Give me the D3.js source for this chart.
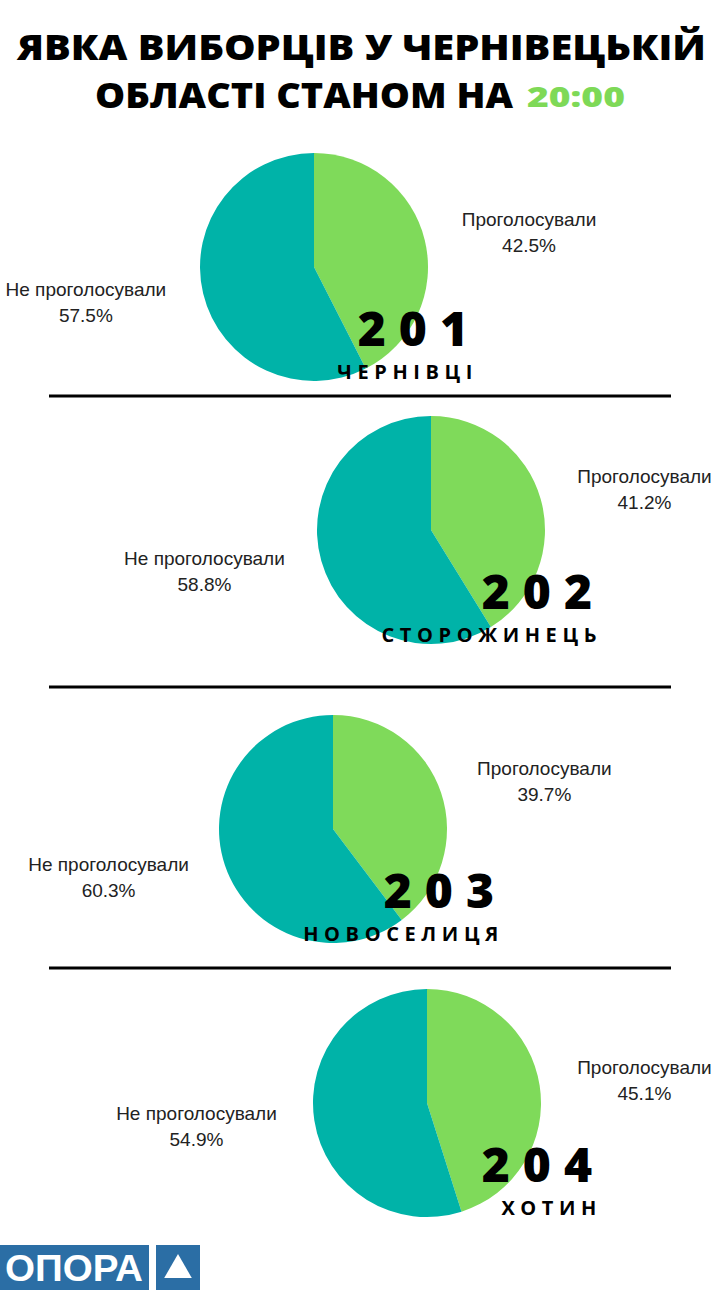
<!DOCTYPE html>
<html lang="uk">
<head>
    <meta charset="UTF-8">
    <title>Явка виборців у Чернівецькій області</title>
    <style>
        body { margin: 0; background: #fff; }
        svg { display: block; }
    </style>
    <script src="https://cdn.jsdelivr.net/npm/d3@7"></script>
</head>
<body>
    <svg id="chart" width="720" height="1290"></svg>

    <script>
        // values
        const districts = ["201", "202", "203", "204"];
        const towns = ["ЧЕРНІВЦІ", "СТОРОЖИНЕЦЬ", "НОВОСЕЛИЦЯ", "ХОТИН"];
        const voted = [42.5, 41.2, 39.7, 45.1];
        const notVoted = [57.5, 58.8, 60.3, 54.9];
        const sliceNames = ["Проголосували", "Не проголосували"];
        const titleLines = ["ЯВКА ВИБОРЦІВ У ЧЕРНІВЕЦЬКІЙ", "ОБЛАСТІ СТАНОМ НА"];
        const titleTime = "20:00";

        // layout
        const W = 720, H = 1290;
        const pieCenters = [[314, 267], [431, 530], [333, 829], [427, 1103]];
        const tagRight = [472, 596, 498, 596];
        const dividers = [396, 687, 968];
        const radius = 114;
        const labelRadius = 152;
        const colors = d3.scaleOrdinal().domain(sliceNames).range(["#7fda5a", "#00b3a8"]);

        const svg = d3.select("#chart");

        // title
        const title = svg.append("g")
            .attr("font-family", "'Open Sans', sans-serif")
            .attr("font-weight", 800)
            .attr("font-size", 35);

        title.append("text")
            .attr("x", 17).attr("y", 60)
            .attr("textLength", 689)
            .attr("lengthAdjust", "spacingAndGlyphs")
            .text(titleLines[0]);

        title.append("text")
            .attr("x", 95).attr("y", 108)
            .attr("textLength", 418)
            .attr("lengthAdjust", "spacingAndGlyphs")
            .text(titleLines[1]);

        title.append("text")
            .attr("x", 527).attr("y", 107)
            .attr("fill", "#7ed957")
            .attr("font-size", 29)
            .attr("textLength", 98)
            .attr("lengthAdjust", "spacingAndGlyphs")
            .text(titleTime);

        const pie = d3.pie().sort(null).value(d => d.value);
        const arc = d3.arc().innerRadius(0).outerRadius(radius);
        const labelArc = d3.arc().innerRadius(labelRadius).outerRadius(labelRadius);

        districts.forEach((district, i) => {
            const [cx, cy] = pieCenters[i];
            const slices = pie([
                { name: sliceNames[0], value: voted[i] },
                { name: sliceNames[1], value: notVoted[i] }
            ]);

            const g = svg.append("g").attr("transform", `translate(${cx},${cy})`);

            g.selectAll("path")
                .data(slices)
                .join("path")
                .attr("d", arc)
                .attr("fill", d => colors(d.data.name));

            // slice labels, block edge pinned at the label radius
            slices.forEach(d => {
                const [lx, ly] = labelArc.centroid(d);
                const right = lx >= 0;
                const lbl = g.append("text")
                    .attr("font-family", "'Liberation Sans', Arial, sans-serif")
                    .attr("font-size", 19)
                    .attr("fill", "#222")
                    .attr("text-anchor", "middle");
                const l1 = lbl.append("tspan").attr("y", ly - 6).text(d.data.name);
                const l2 = lbl.append("tspan").attr("y", ly + 20).text(d.data.value.toFixed(1) + "%");
                const w = Math.max(l1.node().getComputedTextLength(), l2.node().getComputedTextLength());
                const x = right ? lx + w / 2 : lx - w / 2;
                l1.attr("x", x);
                l2.attr("x", x);
            });

            // district number and town
            const tx = tagRight[i] - cx;
            g.append("text")
                .attr("x", tx + 9).attr("y", 79)
                .attr("text-anchor", "end")
                .attr("font-family", "'Open Sans', sans-serif")
                .attr("font-weight", 800)
                .attr("font-size", 48)
                .attr("letter-spacing", 13)
                .text(district);
            g.append("text")
                .attr("x", tx + 6).attr("y", 112)
                .attr("text-anchor", "end")
                .attr("font-family", "'Open Sans', sans-serif")
                .attr("font-weight", 700)
                .attr("font-size", 20)
                .attr("letter-spacing", 5.6)
                .text(towns[i]);
        });

        svg.selectAll("line.divider")
            .data(dividers)
            .join("line")
            .attr("class", "divider")
            .attr("x1", 49).attr("x2", 671)
            .attr("y1", d => d).attr("y2", d => d)
            .attr("stroke", "#000")
            .attr("stroke-width", 3);

        // logo
        const logo = svg.append("g").attr("transform", `translate(0,${H - 45})`);
        logo.append("rect").attr("width", 149).attr("height", 45).attr("fill", "#2b6ea5");
        logo.append("text")
            .attr("x", 5).attr("y", 36)
            .attr("font-family", "'Liberation Sans', Arial, sans-serif")
            .attr("font-weight", 700)
            .attr("font-size", 37)
            .attr("textLength", 138)
            .attr("lengthAdjust", "spacingAndGlyphs")
            .attr("fill", "#fff")
            .text("ОПОРА");
        logo.append("rect").attr("x", 156).attr("width", 44).attr("height", 45).attr("fill", "#2b6ea5");
        logo.append("path")
            .attr("d", d3.symbol(d3.symbolTriangle, 330)())
            .attr("transform", "translate(178,25)")
            .attr("fill", "#fff");
    </script>
</body>
</html>
